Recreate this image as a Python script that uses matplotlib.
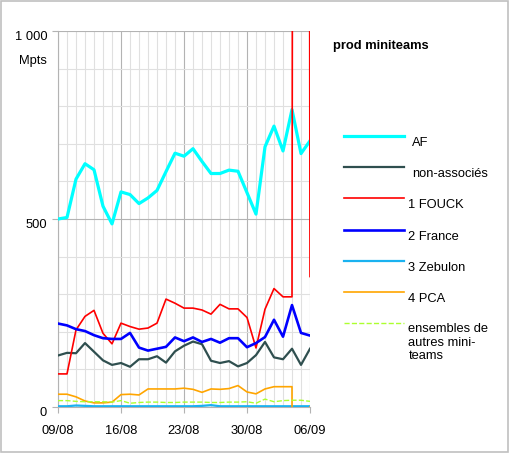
import matplotlib
matplotlib.use('Agg')
import matplotlib.pyplot as plt
from matplotlib.lines import Line2D
from matplotlib.patches import Rectangle
import numpy as np

plt.rcParams['font.family'] = ['Liberation Sans', 'DejaVu Sans']

# jours du 09/08 au 06/09
jours = ['09/08', '10/08', '11/08', '12/08', '13/08', '14/08', '15/08', '16/08', '17/08', '18/08',
         '19/08', '20/08', '21/08', '22/08', '23/08', '24/08', '25/08', '26/08', '27/08', '28/08',
         '29/08', '30/08', '31/08', '01/09', '02/09', '03/09', '04/09', '05/09', '06/09']
etiquettes = ['09/08', '16/08', '23/08', '30/08', '06/09']

af = [500, 504, 606, 647, 631, 534, 487, 572, 565, 541, 556, 576, 626, 675, 667, 687, 653, 621,
      621, 630, 627, 570, 513, 692, 747, 681, 791, 674, 708]
non_assoc = [137, 144, 143, 170, 147, 124, 112, 117, 107, 127, 127, 135, 118, 148, 163, 174, 167, 123,
             117, 122, 108, 117, 138, 173, 132, 127, 155, 112, 155]
fouck = [88, 88, 205, 241, 257, 196, 168, 223, 214, 207, 210, 223, 287, 276, 263, 263, 258, 247,
         273, 261, 261, 238, 157, 260, 315, 293, 293, 20000, 347]
france = [222, 217, 207, 202, 191, 183, 181, 181, 197, 158, 150, 155, 160, 185, 175, 185, 173, 181,
          171, 183, 183, 159, 170, 186, 232, 187, 271, 197, 190]
zebulon = [2, 2, 4, 3, 2, 2, 2, 2, 2, 2, 2, 2, 2, 2, 2, 2, 3, 5, 2, 2, 2, 2, 2, 2, 2, 2, 2, 2, 2]
pca = [34, 34, 27, 16, 11, 11, 13, 33, 34, 32, 48, 48, 48, 48, 50, 47, 39, 48, 47, 49, 57, 40,
       35, 48, 54, 54, 54, -20000, 0]
autres = [17, 17, 15, 14, 14, 14, 13, 17, 10, 12, 13, 13, 12, 12, 13, 13, 13, 12, 12, 13, 13, 14,
          10, 21, 14, 17, 18, 18, 15]

noms = ['AF', 'non-associés', '1 FOUCK', '2 France', '3 Zebulon', '4 PCA',
        'ensembles de\nautres mini-\nteams']
series = [af, non_assoc, fouck, france, zebulon, pca, autres]
couleurs = ['#00ffff', '#2f4f4f', '#ff0000', '#0000ff', '#1ab2f0', '#ffa500', '#adff2f']
epaisseurs = [2.3, 1.6, 1.2, 1.9, 1.6, 1.2, 1.0]
styles = ['-', '-', '-', '-', '-', '-', '--']

W, H = 510, 454
fig = plt.figure(figsize=(W / 100, H / 100), dpi=100)
fig.add_artist(Rectangle((0.001, 0.004), 0.995, 0.994, transform=fig.transFigure,
                         fill=False, edgecolor='#c0c0c0', linewidth=1.2))

ax = fig.add_axes([58 / W, 1 - 407 / H, 252 / W, 376 / H])
x = np.arange(len(jours))

ax.set_xticks(x, minor=True)
ax.set_xticks(x[::7])
ax.set_xticklabels(etiquettes)
ax.set_yticks(np.arange(0, 1001, 100), minor=True)
ax.set_yticks([0, 500, 1000])
ax.set_yticklabels(['0', '500', '1 000'])
for t in ax.get_yticklabels():
    t.set_va('top')

ax.grid(which='minor', color='#e0e0e0', linewidth=0.8)
ax.grid(which='major', color='#b3b3b3', linewidth=0.8)
ax.tick_params(which='minor', length=0)
ax.tick_params(which='major', length=4.3, color='#b3b3b3', labelsize=9.3, labelcolor='black')
ax.tick_params(axis='x', pad=9)
ax.tick_params(axis='y', pad=3.5)
for s in ['top', 'right']:
    ax.spines[s].set_visible(False)
for s in ['left', 'bottom']:
    ax.spines[s].set_color('#b3b3b3')
    ax.spines[s].set_linewidth(0.8)

for v, c, lw, ls in zip(series, couleurs, epaisseurs, styles):
    ax.plot(x, v, color=c, linewidth=lw, linestyle=ls, zorder=3)

ax.set_xlim(0, len(jours) - 1)
ax.set_ylim(0, 1000)

fig.text(47 / W, 1 - 61 / H, 'Mpts', ha='right', va='center', fontsize=9.3)

# légende
fig.text(333 / W, 1 - 46 / H, 'prod miniteams', ha='left', va='center',
         fontsize=9.3, fontweight='bold')
y0 = 135.7
for i, (nom, c, lw, ls) in enumerate(zip(noms, couleurs, epaisseurs, styles)):
    yl = y0 + i * 31.27
    fig.add_artist(Line2D([344 / W, 404 / W], [1 - yl / H, 1 - yl / H], color=c,
                          linewidth=lw, linestyle=ls, transform=fig.transFigure))
    xt = 411.7 if i < 2 else 408.3
    if '\n' in nom:
        fig.text(xt / W, 1 - (yl - 0.3) / H, nom, ha='left', va='top', fontsize=9.3,
                 linespacing=1.18)
    else:
        fig.text(xt / W, 1 - (yl + 7) / H, nom, ha='left', va='center', fontsize=9.3)

fig.savefig('out.png', dpi=100)
